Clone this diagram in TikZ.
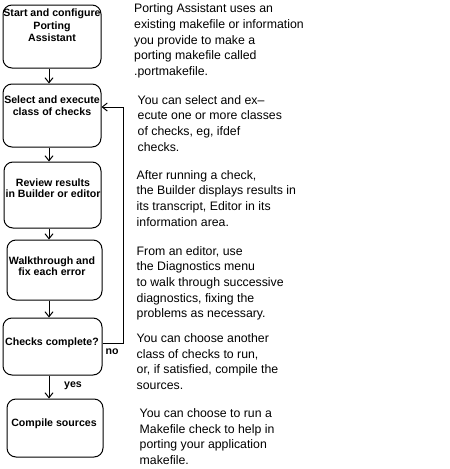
\documentclass[tikz,border=0pt]{standalone}
\usepackage{fontspec}
\setmainfont{Liberation Sans}
\usetikzlibrary{arrows.meta}
\newcommand{\tpr}{\rule{0pt}{10pt}}
\begin{document}
\begin{tikzpicture}[x=1pt,y=-1pt,
  box/.style={draw, line width=1pt, rounded corners=9pt, inner sep=0pt},
  boxtext/.style={anchor=north, inner sep=0pt, align=center,
    font=\fontsize{10.6}{12}\selectfont\bfseries},
  desc/.style={anchor=north west, inner sep=0pt, align=left,
    font=\fontsize{12.3}{15.6}\selectfont},
  lbl/.style={inner sep=0pt, font=\fontsize{10.6}{12}\selectfont\bfseries},
  arr/.style={draw, line width=1pt, -{Straight Barb[length=5pt,width=8pt]}}]
\useasboundingbox (0,0) rectangle (450,469);
\fill[white] (0,0) rectangle (450,469);
% boxes
\node[box, minimum width=98pt, minimum height=63pt] (b1) at (52,36.5) {};
\node[box, minimum width=98pt, minimum height=63pt] (b2) at (52,115.5) {};
\node[box, minimum width=97pt, minimum height=66pt] (b3) at (52.5,195) {};
\node[box, minimum width=95pt, minimum height=60pt] (b4) at (54.5,270) {};
\node[box, minimum width=99pt, minimum height=57pt] (b5) at (52.5,346.5) {};
\node[box, minimum width=96pt, minimum height=58pt] (b6) at (55,428) {};
% box texts
\node[boxtext, font=\fontsize{10.6}{12.8}\selectfont\bfseries] (t1) at (52,6) {\tpr Start and configure\\Porting\\Assistant};
\node[boxtext, font=\fontsize{10.6}{11.7}\selectfont\bfseries] (t2) at (52,93.3) {\tpr Select and execute\\class of checks};
\node[boxtext, font=\fontsize{10.6}{10.2}\selectfont\bfseries] (t3) at (53,176.7) {\tpr Review results\\in Builder or editor};
\node[boxtext, font=\fontsize{10.6}{9.6}\selectfont\bfseries] (t4) at (52,254.3) {\tpr Walkthrough and\\fix each error};
\node[boxtext] (t5) at (52,335) {\tpr Checks complete?};
\node[boxtext] (t6) at (54,416.7) {\tpr Compile sources};
% connectors
\coordinate (ax) at (49,0);
\draw[arr] (b1.south -| ax) -- (b2.north -| ax);
\draw[arr] (b2.south -| ax) -- (b3.north -| ax);
\draw[arr] (b3.south -| ax) -- (b4.north -| ax);
\draw[arr] (b4.south -| ax) -- (b5.north -| ax);
\draw[arr] (b5.south -| ax) -- (b6.north -| ax);
\coordinate (c1) at (123,343);
\coordinate (c2) at (123,107);
\draw[arr] (b5.east |- c1) -- (c1) -- (c2) -- (b2.east |- c2);
\node[lbl] (no) at (112,352) {no};
\node[lbl] (yes) at (73,386) {yes};
% descriptions
\node[desc] (d1) at (134,2.7) {\tpr Porting Assistant uses an\\existing makefile or information\\you provide to make a\\porting makefile called\\.portmakefile.};
\node[desc] (d2) at (137.5,94) {\tpr You can select and ex--\\ecute one or more classes\\of checks, eg, ifdef\\checks.};
\node[desc] (d3) at (136.5,169) {\tpr After running a check,\\the Builder displays results in\\its transcript, Editor in its\\information area.};
\node[desc] (d4) at (136.5,245) {\tpr From an editor, use\\the Diagnostics menu\\to walk through successive\\diagnostics, fixing the\\problems as necessary.};
\node[desc] (d5) at (136.5,332.3) {\tpr You can choose another\\class of checks to run,\\or, if satisfied, compile the\\sources.};
\node[desc] (d6) at (139.5,407.3) {\tpr You can choose to run a\\Makefile check to help in\\porting your application\\makefile.};
\end{tikzpicture}
\end{document}
